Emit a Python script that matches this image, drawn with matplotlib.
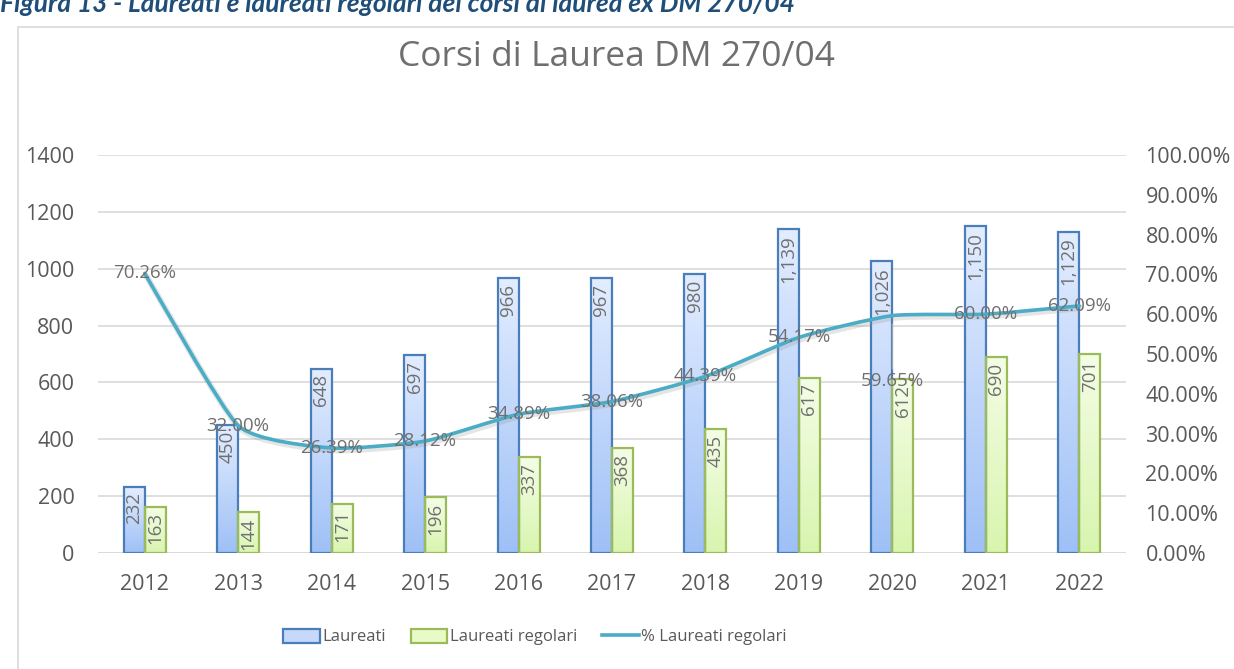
import numpy as np
import matplotlib
matplotlib.use("Agg")
import matplotlib.pyplot as plt
from matplotlib.patches import Rectangle, Patch
from matplotlib.lines import Line2D
from matplotlib.path import Path
from matplotlib.patches import PathPatch
from matplotlib.colors import LinearSegmentedColormap
import matplotlib.patheffects as pe

plt.rcParams['font.family'] = ['Open Sans', 'DejaVu Sans']

# ---- data ----
years = ['2012', '2013', '2014', '2015', '2016', '2017', '2018', '2019', '2020', '2021', '2022']
laureati = [232, 450, 648, 697, 966, 967, 980, 1139, 1026, 1150, 1129]
laureati_regolari = [163, 144, 171, 196, 337, 368, 435, 617, 612, 690, 701]
pct_regolari = [70.26, 32.00, 26.39, 28.12, 34.89, 38.06, 44.39, 54.17, 59.65, 60.00, 62.09]
left_ticks = [0, 200, 400, 600, 800, 1000, 1200, 1400]
right_ticks = [0, 10, 20, 30, 40, 50, 60, 70, 80, 90, 100]
title = 'Corsi di Laurea DM 270/04'
caption = 'Figura 13 - Laureati e laureati regolari dei corsi di laurea ex DM 270/04'
legend_labels = ['Laureati', 'Laureati regolari', '% Laureati regolari']
# label offsets in points (style): only 2020 label moved below its point
pct_label_offsets = [(0, 0)] * 8 + [(0, -47)] + [(0, 0)] * 2

W, H = 1234, 669
fig = plt.figure(figsize=(W / 100, H / 100), dpi=100)
fig.patch.set_facecolor('white')

TXT = '#595959'
LBL = '#6f6f6f'
GRID = '#d9d9d9'
BLUE_EDGE = '#4a7ebb'
GREEN_EDGE = '#9bbb59'
LINE = '#4bacc6'

# outer chart frame
fig.patches.append(Rectangle((18 / W, -0.05), 1.2, (H - 27) / H + 0.05,
                             transform=fig.transFigure, fill=False,
                             edgecolor=GRID, lw=1.2))
# caption (cut off at top)
fig.text(0.0, 1 - 12 / H, caption, ha='left', va='baseline', fontsize=19,
         fontweight='bold', fontstyle='italic', color='#1f4e79',
         family=['Lato', 'DejaVu Sans'])

ax = fig.add_axes([98 / W, 1 - 553 / H, (1126 - 98) / W, (553 - 155) / H])
ax2 = ax.twinx()
ax.set_zorder(1)
ax2.set_zorder(2)
ax.patch.set_visible(False)
ax2.patch.set_visible(False)

n = len(years)
x = np.arange(n)
bw = 0.225

blue_cmap = LinearSegmentedColormap.from_list('b', ['#e3edff', '#9ec0f6'])
green_cmap = LinearSegmentedColormap.from_list('g', ['#f4fde6', '#d8f5ae'])
grad = np.linspace(0, 1, 256).reshape(-1, 1)

def grad_bars(xs, vals, cmap, edge):
    bars = ax.bar(xs, vals, width=bw, align='edge', facecolor='none',
                  edgecolor=edge, linewidth=1.6, zorder=3)
    for b in bars:
        x0, y0 = b.get_x(), b.get_y()
        w, h = b.get_width(), b.get_height()
        ax.imshow(grad, extent=[x0, x0 + w, y0, y0 + h], origin='upper',
                  aspect='auto', cmap=cmap, zorder=2, interpolation='bicubic')
    return bars

b1 = grad_bars(x - bw, laureati, blue_cmap, BLUE_EDGE)
b2 = grad_bars(x, laureati_regolari, green_cmap, GREEN_EDGE)

for xs, vals in ((x - bw / 2, laureati), (x + bw / 2, laureati_regolari)):
    for xi, v in zip(xs, vals):
        ax.annotate(f'{v:,}', (xi, v), xytext=(0, -4), textcoords='offset points',
                    rotation=90, ha='center', va='top', fontsize=13.5, color=LBL,
                    zorder=5)

ax.set_xlim(-0.5, n - 0.5)
ax.set_ylim(0, 1400)
ax.set_yticks(left_ticks)
ax.set_yticklabels([str(t) for t in left_ticks])
ax.set_xticks(x)
ax.set_xticklabels(years)
ax.yaxis.grid(True, color=GRID, lw=1.2)
ax.set_axisbelow(True)
for s in ax.spines.values():
    s.set_visible(False)
for s in ax2.spines.values():
    s.set_visible(False)
ax.axhline(0, color=GRID, lw=1.2, zorder=1)
ax.tick_params(axis='both', length=0, labelsize=15.5, colors=TXT)
ax.tick_params(axis='y', pad=17)
ax.tick_params(axis='x', pad=15)

# secondary axis: smoothed line
ax2.set_ylim(0, 1)
ax2.set_yticks([t / 100 for t in right_ticks])
ax2.set_yticklabels([f'{t:.2f}%' for t in right_ticks])
ax2.tick_params(axis='y', length=0, labelsize=15.5, colors=TXT, pad=14)

yv = np.array(pct_regolari) / 100
pts = np.column_stack([x, yv])
verts = [tuple(pts[0])]
codes = [Path.MOVETO]
k = 0.09
for i in range(n - 1):
    p0 = pts[i - 1] if i > 0 else pts[i]
    p1 = pts[i]
    p2 = pts[i + 1]
    p3 = pts[i + 2] if i + 2 < n else pts[i + 1]
    c1 = p1 + (p2 - p0) * k
    c2 = p2 - (p3 - p1) * k
    verts += [tuple(c1), tuple(c2), tuple(p2)]
    codes += [Path.CURVE4] * 3
pp = PathPatch(Path(verts, codes), facecolor='none', edgecolor=LINE, lw=2.6,
               zorder=3, capstyle='round', joinstyle='round')
pp.set_path_effects([pe.Stroke(linewidth=4.5, foreground=(0.55, 0.55, 0.55, 0.22),
                               offset=(1, -1.5)),
                     pe.Normal()])
ax2.add_patch(pp)
ax2.set_xlim(-0.5, n - 0.5)

for xi, v, off in zip(x, pct_regolari, pct_label_offsets):
    kw = {}
    if off != (0, 0):
        kw['arrowprops'] = dict(arrowstyle='-', color='#a6a6a6', lw=0.8,
                                shrinkA=0, shrinkB=6)
    ax2.annotate(f'{v:.2f}%', (xi, v / 100), xytext=off, textcoords='offset points',
                 ha='center', va='center', fontsize=13.5, color=LBL, zorder=6, **kw)

fig.text(616 / W, 1 - 57 / H, title, ha='center', va='center', fontsize=25.5, color=LBL)

handles = [Patch(facecolor='#c6d9fb', edgecolor=BLUE_EDGE, lw=1.6),
           Patch(facecolor='#e8fac8', edgecolor=GREEN_EDGE, lw=1.6),
           Line2D([0], [0], color=LINE, lw=2.6)]
fig.legend(handles, legend_labels, loc='center', bbox_to_anchor=(535 / W, 1 - 637 / H),
           ncol=3, frameon=False, fontsize=12, labelcolor=TXT, handlelength=2.2,
           handleheight=0.95, handletextpad=0.15, columnspacing=1.5)

fig.savefig('out.png', dpi=100, facecolor='white')
